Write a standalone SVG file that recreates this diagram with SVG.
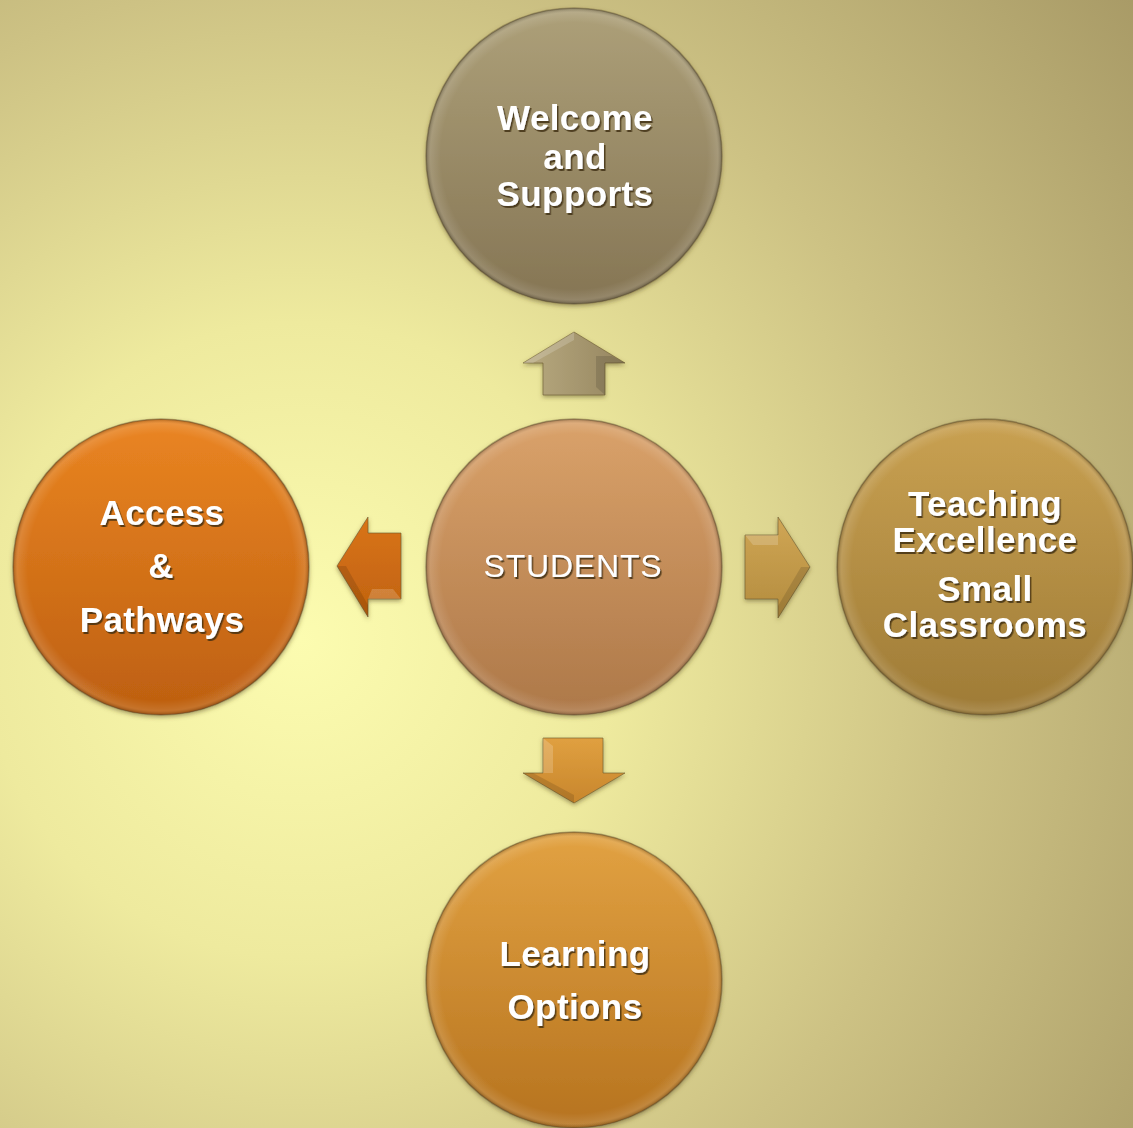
<svg xmlns="http://www.w3.org/2000/svg" width="1133" height="1128" viewBox="0 0 1133 1128">
<defs>
<radialGradient id="bg" gradientUnits="userSpaceOnUse" cx="300" cy="640" r="1060">
<stop offset="0" stop-color="#fcfcb0"/>
<stop offset="0.3" stop-color="#eeea9e"/>
<stop offset="0.62" stop-color="#cdc284"/>
<stop offset="1" stop-color="#a89a66"/>
</radialGradient>
<linearGradient id="gTop" x1="0" y1="0" x2="0" y2="1"><stop offset="0" stop-color="#ada079"/><stop offset="1" stop-color="#857554"/></linearGradient>
<linearGradient id="gCen" x1="0" y1="0" x2="0" y2="1"><stop offset="0" stop-color="#daa26a"/><stop offset="1" stop-color="#ad7849"/></linearGradient>
<linearGradient id="gLeft" x1="0" y1="0" x2="0" y2="1"><stop offset="0" stop-color="#ea8522"/><stop offset="1" stop-color="#bd5f10"/></linearGradient>
<linearGradient id="gRight" x1="0" y1="0" x2="0" y2="1"><stop offset="0" stop-color="#c9a152"/><stop offset="1" stop-color="#9e7b36"/></linearGradient>
<linearGradient id="gBot" x1="0" y1="0" x2="0" y2="1"><stop offset="0" stop-color="#e2a242"/><stop offset="1" stop-color="#b6731f"/></linearGradient>
<linearGradient id="aUp" x1="0" y1="0" x2="1" y2="0"><stop offset="0" stop-color="#b8aa80"/><stop offset="1" stop-color="#968660"/></linearGradient>
<linearGradient id="aLeft" x1="0" y1="0" x2="0" y2="1"><stop offset="0" stop-color="#d97418"/><stop offset="1" stop-color="#c0620f"/></linearGradient>
<linearGradient id="aRight" x1="0" y1="0" x2="0" y2="1"><stop offset="0" stop-color="#d0a655"/><stop offset="1" stop-color="#b38c3e"/></linearGradient>
<linearGradient id="aDown" x1="0" y1="0" x2="0" y2="1"><stop offset="0" stop-color="#e0a040"/><stop offset="1" stop-color="#c8862c"/></linearGradient>
<radialGradient id="shine" cx="0.5" cy="0.5" r="0.5">
<stop offset="0.9" stop-color="#ffffff" stop-opacity="0"/>
<stop offset="0.97" stop-color="#ffffff" stop-opacity="0.12"/>
<stop offset="1" stop-color="#000000" stop-opacity="0.25"/>
</radialGradient>
<filter id="sh" x="-10%" y="-10%" width="120%" height="120%">
<feDropShadow dx="0" dy="2" stdDeviation="2" flood-color="#5a4a20" flood-opacity="0.5"/>
</filter>
<filter id="ts" x="-10%" y="-20%" width="120%" height="140%">
<feDropShadow dx="1.5" dy="2" stdDeviation="0.7" flood-color="#3a2a10" flood-opacity="0.8"/>
</filter>
</defs>
<style>
.lbl{font-family:"Liberation Sans",Arial,sans-serif;font-weight:bold;font-size:35px;letter-spacing:0.4px;fill:#ffffff;text-anchor:middle;filter:url(#ts)}
.reg{font-weight:normal;font-size:32px;letter-spacing:0.8px}
.node circle.base{stroke:#6b5a38;stroke-opacity:0.45;stroke-width:1.5;filter:url(#sh)}
.arrow polygon.body{stroke:#6b5a30;stroke-opacity:0.6;stroke-width:1;filter:url(#sh)}
.arrow polygon.hl{fill:#ffffff;fill-opacity:0.18}
.arrow polygon.dk{fill:#000000;fill-opacity:0.12}
</style>
<rect x="0" y="0" width="1133" height="1128" fill="url(#bg)"/>

<g id="connectors">
<g class="arrow" id="arrow-up">
<polygon class="body" fill="url(#aUp)" points="574,332 625,363 605,363 605,395 543,395 543,363 523,363"/>
<polygon class="hl" points="574,332 574,340 533,363 523,363"/>
<polygon class="dk" points="605,363 605,395 596,387 596,356 612,356 625,363"/>
</g>
<g class="arrow" id="arrow-left">
<polygon class="body" fill="url(#aLeft)" points="337,566 368,517 368,533 401,533 401,599 368,599 368,617"/>
<polygon class="hl" points="368,599 401,599 393,589 372,589"/>
<polygon class="dk" points="337,566 346,566 368,605 368,617"/>
</g>
<g class="arrow" id="arrow-right">
<polygon class="body" fill="url(#aRight)" points="810,567 778,517 778,535 745,535 745,599 778,599 778,618"/>
<polygon class="hl" points="745,535 778,535 778,545 753,545"/>
<polygon class="dk" points="810,567 801,567 778,606 778,618"/>
</g>
<g class="arrow" id="arrow-down">
<polygon class="body" fill="url(#aDown)" points="574,803 625,773 603,773 603,738 543,738 543,773 523,773"/>
<polygon class="hl" points="543,738 553,746 553,773 543,773"/>
<polygon class="dk" points="574,803 574,795 533,773 523,773"/>
</g>
</g>

<g class="node" id="node-welcome">
<circle class="base" cx="574" cy="156" r="148" fill="url(#gTop)"/>
<circle cx="574" cy="156" r="148" fill="url(#shine)"/>
<text class="lbl" x="575" y="130">Welcome</text>
<text class="lbl" x="575" y="169">and</text>
<text class="lbl" x="575" y="206">Supports</text>
</g>

<g class="node" id="node-students">
<circle class="base" cx="574" cy="567" r="148" fill="url(#gCen)"/>
<circle cx="574" cy="567" r="148" fill="url(#shine)"/>
<text class="lbl reg" x="573" y="577">STUDENTS</text>
</g>

<g class="node" id="node-access">
<circle class="base" cx="161" cy="567" r="148" fill="url(#gLeft)"/>
<circle cx="161" cy="567" r="148" fill="url(#shine)"/>
<text class="lbl" x="162" y="525">Access</text>
<text class="lbl" x="161" y="578">&amp;</text>
<text class="lbl" x="162" y="632">Pathways</text>
</g>

<g class="node" id="node-teaching">
<circle class="base" cx="985" cy="567" r="148" fill="url(#gRight)"/>
<circle cx="985" cy="567" r="148" fill="url(#shine)"/>
<text class="lbl" x="985" y="516">Teaching</text>
<text class="lbl" x="985" y="552">Excellence</text>
<text class="lbl" x="985" y="601">Small</text>
<text class="lbl" x="985" y="637">Classrooms</text>
</g>

<g class="node" id="node-learning">
<circle class="base" cx="574" cy="980" r="148" fill="url(#gBot)"/>
<circle cx="574" cy="980" r="148" fill="url(#shine)"/>
<text class="lbl" x="575" y="966">Learning</text>
<text class="lbl" x="575" y="1019">Options</text>
</g>
</svg>
